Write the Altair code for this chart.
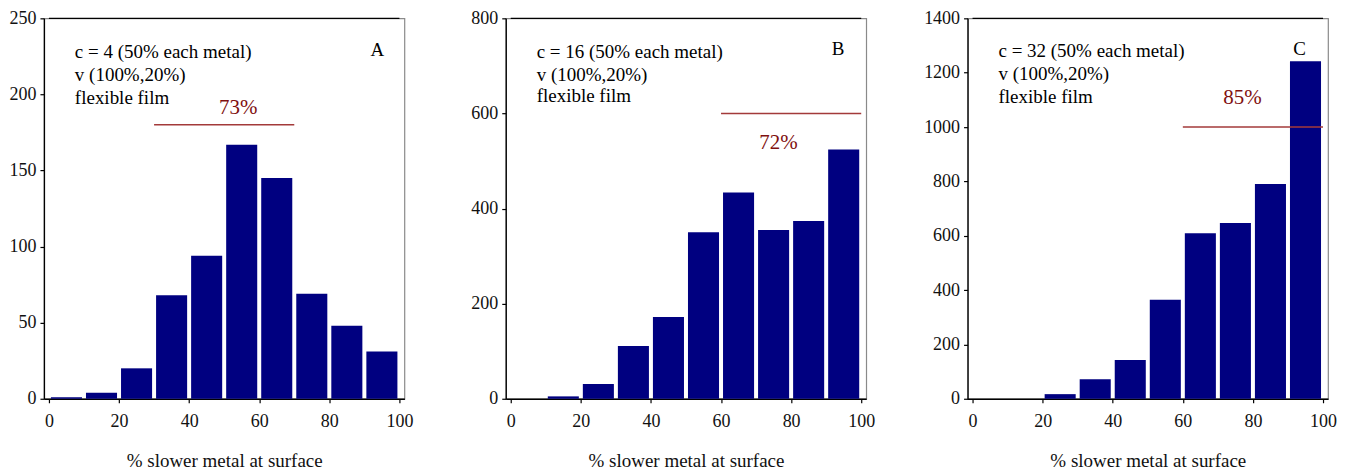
import altair as alt
import pandas as pd

# ---- data ----
bin_start = [0, 10, 20, 30, 40, 50, 60, 70, 80, 90]
bin_end = [10, 20, 30, 40, 50, 60, 70, 80, 90, 100]
counts_a = [1, 4, 20, 68, 94, 167, 145, 69, 48, 31]
counts_b = [0, 5, 31, 111, 172, 350, 434, 355, 374, 524]
counts_c = [0, 0, 17, 72, 143, 364, 609, 647, 790, 1242]

panel_letters = ["A", "B", "C"]
c_values = ["4", "16", "32"]
y_max = [250, 800, 1400]
y_step = [50, 200, 200]
x_ticks = [0, 20, 40, 60, 80, 100]
x_title = "% slower metal at surface"

pct_labels = ["73%", "72%", "85%"]
pct_line_y = [180, 600, 1000]
pct_line_x0 = [30, 60, 60]
pct_line_x1 = [70, 100, 100]
pct_label_x = [54, 76.4, 77]
pct_label_y = [191, 537, 1106]
letter_x = [93.7, 93.4, 93.3]
letter_y = [229, 736, 1286]
info_x = 7.4
info_y = [[228, 212.6, 197.7], [729, 680, 636], [1280, 1194, 1111]]

FONT = "Liberation Serif"
BAR = "#000080"
RED_LINE = "#a33a3a"
RED_TEXT = "#7f1010"
W, H = 361, 381


def panel(i, counts):
    xs = alt.Scale(domain=[0, 100], nice=False, zero=False)
    ys = alt.Scale(domain=[0, y_max[i]], nice=False)
    yvals = list(range(0, y_max[i] + 1, y_step[i]))
    xax = alt.Axis(values=x_ticks, grid=False, format="d")
    yax = alt.Axis(values=yvals, grid=False, format="d")

    def X(f):
        return alt.X(f, scale=xs, title=x_title, axis=xax)

    def Y(f):
        return alt.Y(f, scale=ys, title=None, axis=yax)

    df = pd.DataFrame({"start": bin_start, "end": bin_end, "count": counts})
    bars = alt.Chart(df).mark_bar(color=BAR, xOffset=2, x2Offset=-2, orient="vertical").encode(
        x=X("start:Q"), x2="end:Q", y=Y("count:Q"), y2=alt.datum(0)
    )

    top_df = pd.DataFrame({"x0": [0], "x1": [100], "y": [y_max[i]]})
    top = alt.Chart(top_df).mark_rule(color="black", strokeWidth=1.2).encode(
        x=X("x0:Q"), x2="x1:Q", y=Y("y:Q")
    )

    line_df = pd.DataFrame({"x0": [pct_line_x0[i]], "x1": [pct_line_x1[i]], "y": [pct_line_y[i]]})
    rule = alt.Chart(line_df).mark_rule(color=RED_LINE, strokeWidth=1.5).encode(
        x=X("x0:Q"), x2="x1:Q", y=Y("y:Q")
    )

    pct_df = pd.DataFrame({"x": [pct_label_x[i]], "y": [pct_label_y[i]], "t": [pct_labels[i]]})
    pct = alt.Chart(pct_df).mark_text(font=FONT, fontSize=21, color=RED_TEXT,
                                      align="center", baseline="middle").encode(
        x=X("x:Q"), y=Y("y:Q"), text="t:N"
    )

    let_df = pd.DataFrame({"x": [letter_x[i]], "y": [letter_y[i]], "t": [panel_letters[i]]})
    letter = alt.Chart(let_df).mark_text(font=FONT, fontSize=19, color="black",
                                         align="center", baseline="middle").encode(
        x=X("x:Q"), y=Y("y:Q"), text="t:N"
    )

    lines = [f"c = {c_values[i]} (50% each metal)", "v (100%,20%)", "flexible film"]
    info_df = pd.DataFrame({"x": [info_x] * 3, "y": info_y[i], "t": lines})
    info = alt.Chart(info_df).mark_text(font=FONT, fontSize=19, color="black",
                                        align="left", baseline="middle").encode(
        x=X("x:Q"), y=Y("y:Q"), text="t:N"
    )

    return alt.layer(bars, top, rule, pct, letter, info).properties(width=W, height=H)


chart = alt.hconcat(
    panel(0, counts_a), panel(1, counts_b), panel(2, counts_c),
    spacing=101.5, bounds="flush"
).properties(
    padding={"left": 0, "top": 0, "right": 0, "bottom": 0}
).configure_view(
    stroke="#8a8a8a", strokeWidth=1.2
).configure_axis(
    labelFont=FONT, labelFontSize=18, labelColor="#111",
    titleFont=FONT, titleFontSize=19, titleFontWeight="normal", titleColor="#111",
    domainColor="black", domainWidth=1.3, tickColor="black", tickWidth=1.2,
    tickSize=4, zindex=1
).configure_axisX(
    titlePadding=21, labelPadding=10
).configure_axisY(
    labelPadding=4
)

chart.save("out.html", embed_options={"renderer": "svg", "actions": False})
